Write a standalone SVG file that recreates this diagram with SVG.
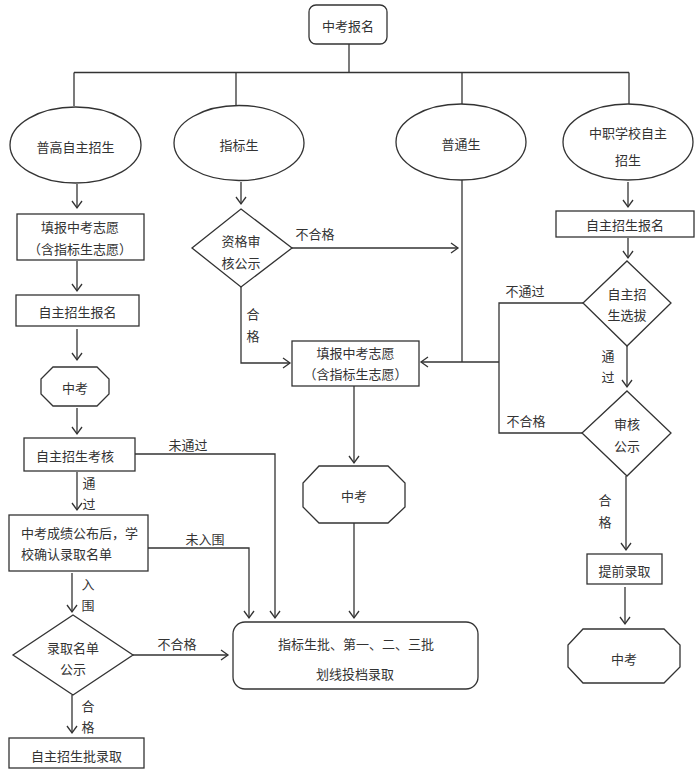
<svg xmlns="http://www.w3.org/2000/svg" width="700" height="776" viewBox="0 0 700 776">
<defs>
<marker id="arr" markerUnits="userSpaceOnUse" markerWidth="12" markerHeight="12" viewBox="-8 -6 10 12" refX="0" refY="0" orient="auto">
<path d="M-7,-5 L0,0 L-7,5" fill="none" stroke="#333" stroke-width="1.3"/>
</marker>
<style>
.s{fill:#fff;stroke:#333;stroke-width:1.3}
.c{fill:none;stroke:#333;stroke-width:1.3}
.a{fill:none;stroke:#333;stroke-width:1.3;marker-end:url(#arr)}
text{font-family:"Noto Sans CJK SC","Noto Sans",sans-serif;font-size:13px;fill:#333;text-anchor:middle;dominant-baseline:central}
.l{text-anchor:start}
</style>
</defs>
<rect width="700" height="776" fill="#fff"/>
<g id="connectors">
<polyline class="c" points="349,44 349,72.5"/>
<polyline class="c" points="74,72.5 629,72.5"/>
<polyline class="c" points="74,72.5 74,106"/>
<polyline class="c" points="236,72.5 236,106"/>
<polyline class="c" points="462,72.5 462,104"/>
<polyline class="c" points="629,72.5 629,104"/>
<polyline class="a" points="77,184 77,208"/>
<polyline class="a" points="77,261 77,291"/>
<polyline class="a" points="77,329 77,360"/>
<polyline class="a" points="77,408 77,434"/>
<polyline class="a" points="77,472 77,510"/>
<polyline class="a" points="72,573 72,612"/>
<polyline class="a" points="72,695 72,733"/>
<polyline class="a" points="135,454 275,454 275,618"/>
<polyline class="a" points="148,548 249,548 249,618"/>
<polyline class="a" points="133,655 228,655"/>
<polyline class="a" points="241,182 241,204"/>
<polyline class="a" points="292,248 458,248"/>
<polyline class="a" points="241,287 241,363 290,363"/>
<polyline class="c" points="462,180 462,362"/>
<polyline class="a" points="499,362 421,362"/>
<polyline class="c" points="583,303 499,303 499,433 582,433"/>
<polyline class="a" points="354,386 354,463"/>
<polyline class="a" points="354,523 354,618"/>
<polyline class="a" points="628,182 628,207"/>
<polyline class="a" points="628,238 628,258"/>
<polyline class="a" points="627,346 627,387"/>
<polyline class="a" points="626,476 626,550"/>
<polyline class="a" points="625,587 625,624"/>
</g>
<g id="n_baoming"><rect class="s" x="309" y="5" width="78" height="39" rx="7"/><text x="348" y="25">中考报名</text></g>
<g id="n_pugao"><ellipse class="s" cx="75.5" cy="145" rx="65.5" ry="38"/><text x="75.5" y="146">普高自主招生</text></g>
<g id="n_zhibiao"><ellipse class="s" cx="239" cy="143" rx="65" ry="37.5"/><text x="239" y="144">指标生</text></g>
<g id="n_putong"><ellipse class="s" cx="461" cy="142" rx="65" ry="38"/><text x="461" y="143">普通生</text></g>
<g id="n_zhongzhi"><ellipse class="s" cx="628" cy="142" rx="65" ry="38"/><text x="628" y="132">中职学校自主</text><text x="628" y="159">招生</text></g>
<g id="n_tianbao1"><rect class="s" x="17" y="214" width="127" height="46"/><text x="80" y="226">填报中考志愿</text><text x="80" y="248">（含指标生志愿）</text></g>
<g id="n_zizhubaoming1"><rect class="s" x="16" y="295" width="123" height="31"/><text x="77.5" y="311">自主招生报名</text></g>
<g id="n_zhongkao1"><polygon class="s" points="53,367 97,367 109,379 109,394 97,406 53,406 41,394 41,379"/><text x="75" y="387">中考</text></g>
<g id="n_kaohe"><rect class="s" x="24" y="438" width="111" height="33"/><text x="75" y="455">自主招生考核</text></g>
<g id="n_chengji"><rect class="s" x="9" y="515" width="139" height="56"/><text class="l" x="21" y="532">中考成绩公布后，学</text><text class="l" x="21" y="553">校确认录取名单</text></g>
<g id="n_gongshi1"><polygon class="s" points="73,615 133,655 73,695 13,655"/><text x="73" y="647">录取名单</text><text x="73" y="668">公示</text></g>
<g id="n_zizhuluqu"><rect class="s" x="9" y="738" width="135" height="30"/><text x="76.5" y="755">自主招生批录取</text></g>
<g id="n_zige"><polygon class="s" points="241,209 292,248 241,287 192,248"/><text x="241" y="240">资格审</text><text x="241" y="262">核公示</text></g>
<g id="n_tianbao2"><rect class="s" x="292" y="341" width="127" height="45"/><text x="355.5" y="352">填报中考志愿</text><text x="355.5" y="373">（含指标生志愿）</text></g>
<g id="n_zhongkao2"><polygon class="s" points="319,466 388,466 405,483 405,507 388,523 319,523 303,507 303,483"/><text x="354" y="495">中考</text></g>
<g id="n_toudang"><rect class="s" x="233" y="622" width="245" height="67" rx="12"/><text x="356" y="643">指标生批、第一、二、三批</text><text x="355" y="673">划线投档录取</text></g>
<g id="n_zizhubaoming2"><rect class="s" x="556" y="211" width="138" height="26"/><text x="625" y="224">自主招生报名</text></g>
<g id="n_xuanba"><polygon class="s" points="627,261 671,303 627,346 583,303"/><text x="627" y="293">自主招</text><text x="627" y="314">生选拔</text></g>
<g id="n_shenhe"><polygon class="s" points="627,391 671,433 627,476 582,433"/><text x="627" y="423">审核</text><text x="627" y="445">公示</text></g>
<g id="n_tiqian"><rect class="s" x="587" y="554" width="75" height="30"/><text x="624.5" y="570">提前录取</text></g>
<g id="n_zhongkao3"><polygon class="s" points="583,629 664,629 680,645 680,667 664,683 583,683 568,667 568,645"/><text x="624" y="658">中考</text></g>
<g id="labels">
<text x="188" y="444">未通过</text>
<text x="89" y="482">通</text>
<text x="89" y="503">过</text>
<text x="205" y="538">未入围</text>
<text x="88" y="583">入</text>
<text x="88" y="604">围</text>
<text x="177" y="643">不合格</text>
<text x="88" y="705">合</text>
<text x="88" y="726">格</text>
<text x="315" y="233">不合格</text>
<text x="253" y="313">合</text>
<text x="253" y="335">格</text>
<text x="525" y="290">不通过</text>
<text x="526" y="420">不合格</text>
<text x="608" y="355">通</text>
<text x="608" y="376">过</text>
<text x="605" y="499">合</text>
<text x="605" y="521">格</text>
</g>
</svg>
